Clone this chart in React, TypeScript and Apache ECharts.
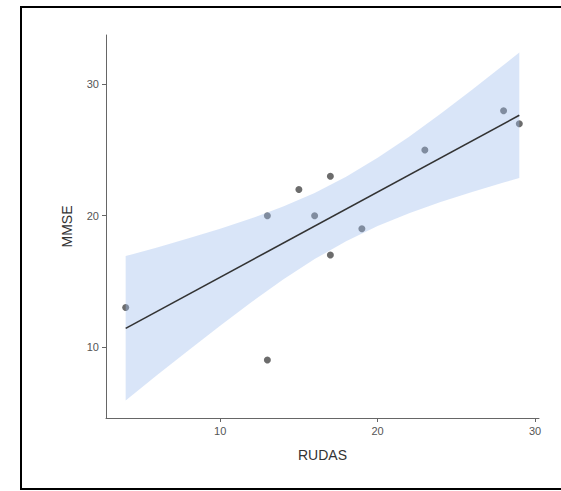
import React, { useEffect, useRef } from "react";
import * as echarts from "echarts";

// Observed points (RUDAS, MMSE)
const rudas = [4, 13, 13, 15, 16, 17, 17, 19, 23, 28, 29];
const mmse = [13, 20, 9, 22, 20, 23, 17, 19, 25, 28, 27];

// Fitted line endpoints
const fitX = [4, 29];
const fitY = [11.41, 27.65];

// Confidence band
const bandX = [4, 6, 8, 10, 12, 14, 16, 18, 20, 22, 24, 26, 28, 29];
const bandLow = [5.91, 7.85, 9.75, 11.62, 13.42, 15.13, 16.69, 18.05, 19.21, 20.19, 21.04, 21.81, 22.53, 22.87];
const bandHigh = [16.92, 17.58, 18.27, 19.0, 19.8, 20.69, 21.73, 22.97, 24.41, 26.02, 27.77, 29.6, 31.48, 32.44];

const xTicks = [10, 20, 30];
const yTicks = [10, 20, 30];

export default function App() {
  const ref = useRef<HTMLDivElement>(null);
  useEffect(() => {
    if (!ref.current) return;
    const chart = echarts.init(ref.current, null, { renderer: "svg" });
    const font = "Liberation Sans, Arial, sans-serif";
    chart.setOption({
      animation: false,
      backgroundColor: "#ffffff",
      textStyle: { fontFamily: font },
      graphic: [
        {
          type: "rect",
          shape: { x: 21, y: 7, width: 600, height: 482 },
          style: { fill: "none", stroke: "#000", lineWidth: 2 },
          silent: true,
          z: 100,
        },
      ],
      grid: { left: 106, top: 35, right: 22, bottom: 73, containLabel: false },
      xAxis: {
        type: "value",
        min: 2.75,
        max: 30.25,
        name: "RUDAS",
        nameLocation: "middle",
        nameGap: 30,
        nameTextStyle: { fontSize: 14, color: "#333", fontFamily: font },
        axisLine: { show: true, lineStyle: { color: "#666", width: 1 } },
        axisTick: { show: true, length: 4, lineStyle: { color: "#666" }, customValues: xTicks },
        axisLabel: { fontSize: 11, color: "#555", margin: 7, customValues: xTicks, fontFamily: font },
        splitLine: { show: false },
      },
      yAxis: {
        type: "value",
        min: 4.58,
        max: 33.77,
        name: "MMSE",
        nameLocation: "middle",
        nameGap: 32,
        nameRotate: 90,
        nameTextStyle: { fontSize: 14, color: "#333", fontFamily: font },
        axisLine: { show: true, lineStyle: { color: "#666", width: 1 } },
        axisTick: { show: true, length: 4, lineStyle: { color: "#666" }, customValues: yTicks },
        axisLabel: { fontSize: 11, color: "#555", margin: 7, customValues: yTicks, fontFamily: font },
        splitLine: { show: false },
      },
      series: [
        {
          type: "scatter",
          data: rudas.map((x, i) => [x, mmse[i]]),
          symbolSize: 7,
          itemStyle: { color: "#474747" },
          z: 1,
        },
        {
          type: "custom",
          data: bandX.map((x, i) => [x, bandLow[i], bandHigh[i]]),
          z: 2,
          silent: true,
          renderItem: (params: any, api: any) => {
            if (params.dataIndex !== 0) return null;
            const upper = bandX.map((x, i) => api.coord([x, bandHigh[i]]));
            const lower = bandX.map((x, i) => api.coord([x, bandLow[i]])).reverse();
            return {
              type: "polygon",
              shape: { points: upper.concat(lower) },
              style: { fill: "rgba(160,190,238,0.4)", stroke: "none" },
            };
          },
          encode: { x: 0, y: [1, 2] },
        },
        {
          type: "line",
          data: fitX.map((x, i) => [x, fitY[i]]),
          showSymbol: false,
          symbol: "none",
          lineStyle: { color: "#333", width: 1.6 },
          z: 3,
        },
      ],
    });
    return () => chart.dispose();
  }, []);
  return (
    <div
      ref={ref}
      style={{ position: "fixed", left: 0, top: 0, width: 561, height: 491 }}
    />
  );
}
